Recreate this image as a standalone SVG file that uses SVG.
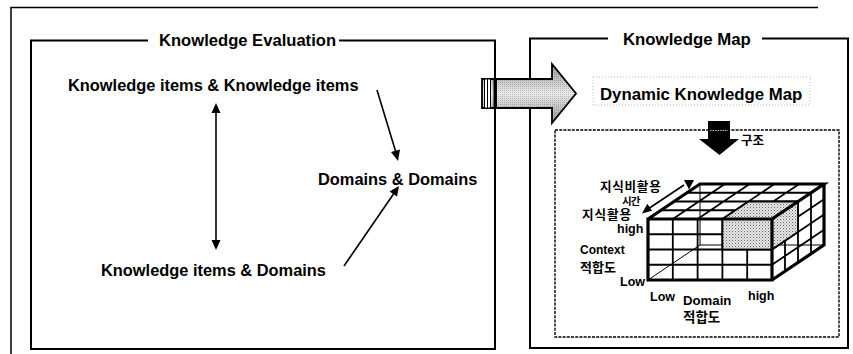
<svg xmlns="http://www.w3.org/2000/svg" width="853" height="354" viewBox="0 0 853 354">
<style>
.t{font-family:"Liberation Sans",Arial,sans-serif;font-weight:bold;fill:#000}
.k{font-family:"Noto Sans CJK KR","Liberation Sans",sans-serif;font-weight:bold;fill:#000}
.panel{fill:none;stroke:#000;stroke-width:2}
.conn{stroke:#000;stroke-width:1.6;fill:none}
.head{fill:#000}
.grid{stroke:#000;stroke-width:1.8;fill:none;stroke-linecap:square}
.edge{stroke:#000;stroke-width:3.2;fill:none;stroke-linejoin:miter}
.hid{stroke:#000;stroke-width:1;fill:none}
.shade{fill:url(#stip);stroke:#000;stroke-width:1.8}
</style>
<defs>
<pattern id="stip" width="3" height="3" patternUnits="userSpaceOnUse">
<rect width="3" height="3" fill="#e6e6e6"/>
<rect x="0" y="0" width="1" height="1" fill="#666"/>
<rect x="1.5" y="1.5" width="1" height="1" fill="#999"/>
</pattern>
<linearGradient id="ag" x1="0" y1="0" x2="0" y2="1">
<stop offset="0" stop-color="#9a9a9a"/>
<stop offset="0.5" stop-color="#ececec"/>
<stop offset="1" stop-color="#9a9a9a"/>
</linearGradient>
<pattern id="dots" width="2" height="2" patternUnits="userSpaceOnUse">
<rect width="1" height="1" fill="#000" fill-opacity="0.18"/>
</pattern>
</defs>
<rect width="853" height="354" fill="#fff"/>

<g id="outer-frame">
<path d="M11 354 V7.5 H818" fill="none" stroke="#000" stroke-width="1.5"/>
</g>

<g id="knowledge-evaluation">
<path class="panel" d="M148 40.5 H31 V349 H495 V40.5 H339"/>
<text class="t" x="159" y="46" font-size="16.6">Knowledge Evaluation</text>
</g>

<g id="knowledge-map">
<path class="panel" d="M608 38.5 H530 V348 H848 V38.5 H762"/>
<text class="t" x="623" y="45" font-size="16.8">Knowledge Map</text>
</g>

<g id="node-ki-ki">
<text class="t" x="68" y="91" font-size="16.4">Knowledge items &amp; Knowledge items</text>
</g>
<g id="node-dd">
<text class="t" x="318" y="185" font-size="16.4">Domains &amp; Domains</text>
</g>
<g id="node-ki-d">
<text class="t" x="101" y="275.5" font-size="16.4">Knowledge items &amp; Domains</text>
</g>

<g id="connectors">
<line class="conn" x1="216" y1="112" x2="216" y2="241"/>
<polygon class="head" points="216,103 211.5,113 220.5,113"/>
<polygon class="head" points="216,250 211.5,240 220.5,240"/>
<line class="conn" x1="377" y1="90" x2="395.5" y2="151"/>
<polygon class="head" points="398,161 391,152 400,149.5"/>
<line class="conn" x1="344" y1="266" x2="393.5" y2="194"/>
<polygon class="head" points="399,186 389.5,191.5 397,196.5"/>
</g>

<g id="transfer-arrow">
<path d="M482 79 H552 V64 L576 93.5 L552 123 V108 H482 Z" fill="url(#ag)"/>
<path d="M482 79 H552 V64 L576 93.5 L552 123 V108 H482 Z" fill="url(#dots)"/>
<path d="M482 79 H552 V64 L576 93.5 L552 123 V108 H482 Z" fill="none" stroke="#000" stroke-width="1.8" stroke-linejoin="miter"/>
<rect x="484.5" y="79" width="6" height="29" fill="#fff" stroke="#000" stroke-width="1"/>
<line x1="487.5" y1="79" x2="487.5" y2="108" stroke="#000" stroke-width="1"/>
<rect x="493.5" y="78" width="3.5" height="31" fill="#000"/>
</g>

<g id="dynamic-map">
<rect x="593" y="77" width="217" height="28" fill="none" stroke="#bdbdbd" stroke-width="1" stroke-dasharray="1 2"/>
<text class="t" x="600" y="100" font-size="16.8">Dynamic Knowledge Map</text>
</g>

<g id="structure-box">
<rect x="555" y="130" width="284" height="207" fill="none" stroke="#000" stroke-width="1.4" stroke-dasharray="3 1.2"/>
</g>

<g id="structure-arrow">
<path d="M708 121 H730 V139 H739 L719.5 155 L699 139 H708 Z" fill="#000"/>
<line x1="710" y1="130.5" x2="728" y2="130.5" stroke="#bbb" stroke-width="1" stroke-dasharray="1.5 1"/>
<text class="k" x="741" y="144.5" font-size="12.5">구조</text>
</g>

<g id="cube">
<path class="hid" d="M700 184 V245 H824 M648 280 L700 245"/>
<path class="grid" d="M672.8 219 V280 M697.6 219 V280 M722.4 219 V280 M747.2 219 V280 M648 234.25 H772 M648 249.5 H772 M648 264.75 H772"/>
<path class="grid" d="M672.8 219 L724.8 184 M697.6 219 L749.6 184 M722.4 219 L774.4 184 M747.2 219 L799.2 184 M661 210.25 H785 M674 201.5 H798 M687 192.75 H811"/>
<path class="grid" d="M785 210.25 V271.25 M798 201.5 V262.5 M811 192.75 V253.75 M772 234.25 L824 199.25 M772 249.5 L824 214.5 M772 264.75 L824 229.75"/>
<rect class="shade" x="722.4" y="219" width="49.6" height="30.5"/>
<polygon class="shade" points="722.4,219 772,219 798,201.5 748.4,201.5"/>
<polygon class="shade" points="772,219 798,201.5 798,232 772,249.5"/>
<path class="edge" d="M648 219 H772 V280 H648 Z M648 219 L700 184 H824 L772 219 M824 184 V245 L772 280"/>
</g>

<g id="cube-labels">
<line x1="648" y1="209" x2="684" y2="185" stroke="#000" stroke-width="1.6"/>
<polygon class="head" points="684,180 694,180 689,189.5"/>
<polygon class="head" points="642,213.5 647.3,203.7 652,210.8"/>
<text class="k" x="600" y="191" font-size="12.6" letter-spacing="0.7">지식비활용</text>
<text class="k" x="622" y="205" font-size="10.5" letter-spacing="-1">시간</text>
<text class="k" x="582" y="219" font-size="12.6" letter-spacing="0.9">지식활용</text>
<text class="t" x="617" y="232.5" font-size="12.5">high</text>
<text class="t" x="580" y="254" font-size="12">Context</text>
<text class="k" x="580" y="271.5" font-size="13">적합도</text>
<text class="t" x="620" y="285.5" font-size="12.5">Low</text>
<text class="t" x="650" y="301" font-size="12.5">Low</text>
<text class="t" x="683" y="305" font-size="13.2">Domain</text>
<text class="t" x="748" y="300" font-size="12.5">high</text>
<text class="k" x="683" y="322" font-size="13.5">적합도</text>
</g>
</svg>
